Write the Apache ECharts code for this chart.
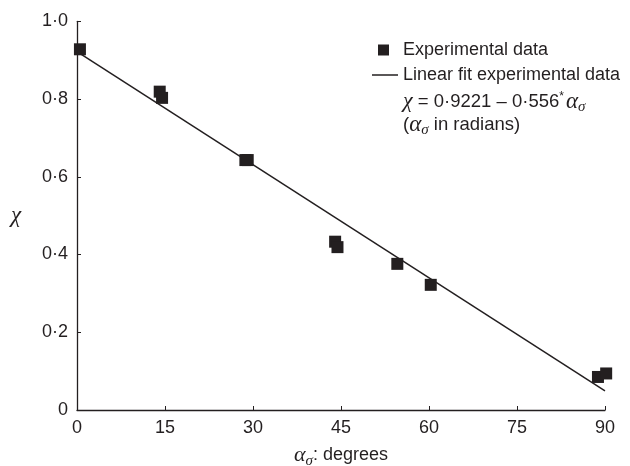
<!DOCTYPE html>
<html>
<head>
<meta charset="utf-8">
<script src="https://cdn.jsdelivr.net/npm/echarts@6/dist/echarts.min.js"></script>
<style>html,body{margin:0;padding:0;background:#fff;}#c{width:630px;height:466px;}</style>
</head>
<body>
<div id="c"></div>
<script>
// Data
const xTicks = [0, 15, 30, 45, 60, 75, 90];
const yTicks = [0, 0.2, 0.4, 0.6, 0.8, 1.0];
const expAngles = [0.5, 14.1, 14.5, 28.7, 29.1, 44.0, 44.4, 54.6, 60.3, 88.8, 90.2];
const expChi    = [0.928, 0.819, 0.803, 0.643, 0.643, 0.433, 0.419, 0.376, 0.322, 0.085, 0.094];
const fitAngles = [0, 90];
const fitChi    = [0.922, 0.049];

const ink = '#231f20';
const sans = 'Liberation Sans, Arial, sans-serif';
const serif = 'Liberation Serif, Times New Roman, serif';

const chart = echarts.init(document.getElementById('c'), null, {renderer: 'canvas'});
chart.setOption({
  animation: false,
  backgroundColor: '#fff',
  grid: {left: 77, right: 25, top: 21.3, bottom: 56, containLabel: false, outerBoundsMode: 'none'},
  xAxis: {
    type: 'value', min: xTicks[0], max: xTicks[xTicks.length - 1], interval: 15,
    axisLine: {show: true, lineStyle: {color: ink, width: 1.3}},
    axisTick: {show: true, inside: true, length: 4, lineStyle: {color: ink, width: 1}},
    splitLine: {show: false},
    axisLabel: {color: ink, fontFamily: sans, fontSize: 18, margin: 9},
    name: '{a|α}{s|σ}{t|: degrees}',
    nameLocation: 'middle', nameGap: 27,
    nameTextStyle: {
      rich: {
        a: {fontFamily: serif, fontStyle: 'italic', fontSize: 22, color: ink, lineHeight: 22},
        s: {fontFamily: serif, fontStyle: 'italic', fontSize: 15, color: ink, lineHeight: 12, padding: [12, 0, 0, 0]},
        t: {fontFamily: sans, fontSize: 18, color: ink, lineHeight: 22}
      }
    }
  },
  yAxis: {
    type: 'value', min: yTicks[0], max: yTicks[yTicks.length - 1], interval: 0.2,
    axisLine: {show: true, lineStyle: {color: ink, width: 1.3}},
    axisTick: {show: true, inside: true, length: 4, lineStyle: {color: ink, width: 1}},
    splitLine: {show: false},
    axisLabel: {
      color: ink, fontFamily: sans, fontSize: 18, margin: 9,
      formatter: function (v) { return v === 0 ? '0' : v.toFixed(1).replace('.', '·'); }
    },
    name: 'χ', nameLocation: 'middle', nameGap: 56, nameRotate: 0,
    nameTextStyle: {fontFamily: serif, fontStyle: 'italic', fontSize: 23, color: ink, padding: [18, 0, 0, 0]}
  },
  legend: [
    {
      data: [{name: 'Experimental data', icon: 'rect'}], left: 378, top: 40, orient: 'vertical', padding: 0,
      itemWidth: 11, itemHeight: 11,
      itemStyle: {color: ink, opacity: 1},
      textStyle: {color: ink, fontFamily: sans, fontSize: 18, lineHeight: 20, padding: [0, 0, 0, 9]}
    },
    {
      data: [{name: 'Linear fit experimental data', icon: 'rect'}], left: 372, top: 65, orient: 'vertical', padding: 0,
      itemWidth: 26, itemHeight: 1.5,
      itemStyle: {color: ink, opacity: 1, borderWidth: 0},
      lineStyle: {width: 0},
      textStyle: {color: ink, fontFamily: sans, fontSize: 18, lineHeight: 20}
    }
  ],
  graphic: [{
    type: 'text', left: 403, top: 88,
    style: {
      text: '{c|χ}{n| = 0·9221 – 0·556}{p|*}{a|α}{s|σ}\n{n|(}{a|α}{s|σ}{n| in radians)}',
      rich: {
        c: {fontFamily: serif, fontStyle: 'italic', fontSize: 22, fill: ink, lineHeight: 23},
        n: {fontFamily: sans, fontSize: 18.5, fill: ink, lineHeight: 23},
        p: {fontFamily: sans, fontSize: 12, fill: ink, lineHeight: 10, padding: [0, 2, 10, 0]},
        a: {fontFamily: serif, fontStyle: 'italic', fontSize: 23, fill: ink, lineHeight: 23},
        s: {fontFamily: serif, fontStyle: 'italic', fontSize: 15, fill: ink, lineHeight: 12, padding: [12, 0, 0, 0]}
      }
    }
  }],
  series: [
    {
      name: 'Experimental data', type: 'scatter',
      symbol: 'rect', symbolSize: 12, clip: false,
      itemStyle: {color: ink, opacity: 1},
      data: expAngles.map(function (a, i) { return [a, expChi[i]]; }),
      z: 3
    },
    {
      name: 'Linear fit experimental data', type: 'line',
      symbol: 'none', showSymbol: false,
      lineStyle: {color: ink, width: 1.5},
      itemStyle: {color: ink},
      data: fitAngles.map(function (a, i) { return [a, fitChi[i]]; }),
      z: 2
    }
  ]
});
</script>
</body>
</html>
